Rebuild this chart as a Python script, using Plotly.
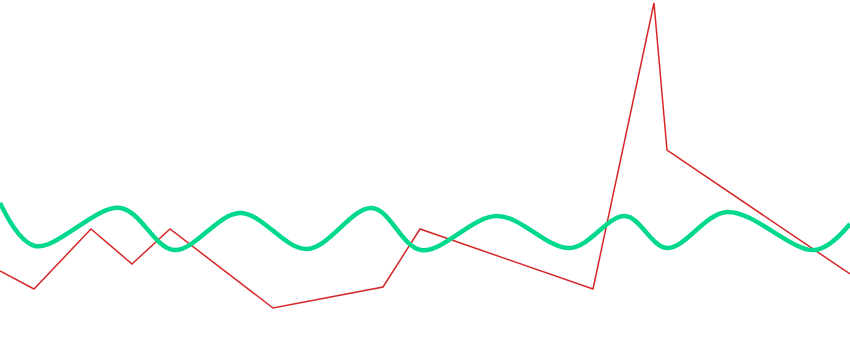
import plotly.graph_objects as go

red_x = [0, 34, 91, 132, 170, 273, 383, 420, 593, 654, 667, 850]
red_y = [79, 61, 121, 86, 121, 42, 63, 121, 61, 347, 200, 76]

green_x = [0, 35, 120, 174, 240, 307, 372, 421, 497, 570, 625, 667, 727, 815, 850]
green_y = [147, 104, 142, 100, 137, 101, 142, 100, 134, 102, 134, 102, 138, 100, 126]

fig = go.Figure()
fig.add_trace(go.Scatter(x=red_x, y=red_y, mode="lines",
                         line=dict(color="#d62728", width=1.5), hoverinfo="skip"))
fig.add_trace(go.Scatter(x=green_x, y=green_y, mode="lines",
                         line=dict(color="#00d98b", width=4.5, shape="spline", smoothing=1),
                         hoverinfo="skip"))
fig.update_layout(
    width=850, height=350,
    margin=dict(l=0, r=0, t=0, b=0),
    paper_bgcolor="white", plot_bgcolor="white",
    showlegend=False,
    xaxis=dict(range=[0, 850], visible=False, fixedrange=True),
    yaxis=dict(range=[0, 350], visible=False, fixedrange=True),
)
fig.write_html("out.html", config={"displayModeBar": False},
               post_script="document.body.style.margin='0';document.body.style.overflow='hidden';")
